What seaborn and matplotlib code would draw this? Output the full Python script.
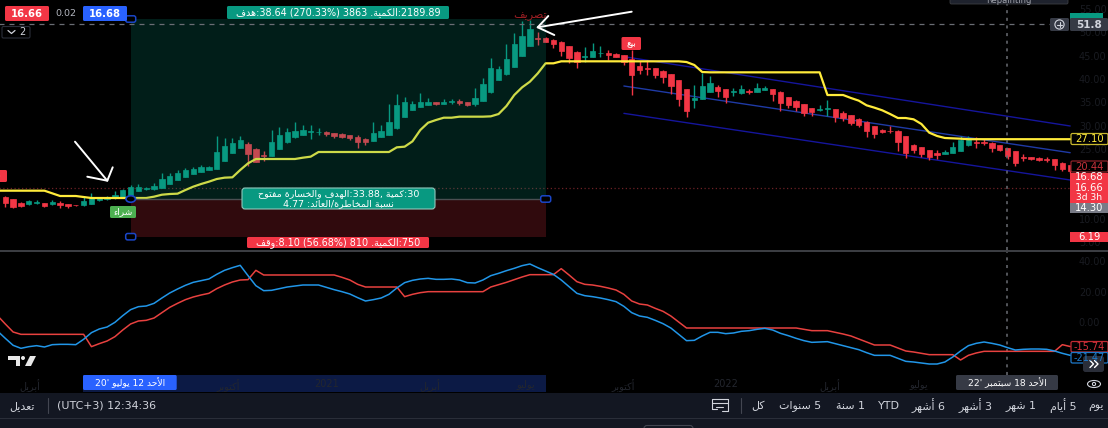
import re
import numpy as np
import pandas as pd
import matplotlib
matplotlib.use("Agg")
import matplotlib.pyplot as plt
import seaborn as sns
from matplotlib.patches import FancyBboxPatch, Rectangle, Ellipse, Circle, Polygon

# weekly candles, oldest first
opens = [14.79, 14.21, 13.43, 13.21, 13.50, 13.43, 13.21, 13.43, 13.14, 13.00, 12.93, 13.29, 14.00, 14.29, 14.43, 14.57,
         15.21, 16.07, 16.36, 16.36, 16.71, 17.57, 18.36, 19.00, 19.71, 20.07, 20.57, 20.79, 22.50, 24.14, 25.21, 26.07,
         25.07, 23.64, 23.57, 25.00, 26.43, 27.50, 28.07, 28.57, 28.64, 28.71, 28.36, 28.29, 27.93, 27.64, 27.21, 26.71,
         27.57, 28.07, 29.43, 31.93, 33.43, 34.07, 34.50, 35.00, 34.71, 35.00, 35.29, 35.07, 34.57, 35.29, 37.14, 39.79,
         41.00, 42.57, 45.00, 47.14, 48.86, 48.86, 48.43, 48.00, 47.07, 45.86, 44.71, 44.79, 45.50, 45.57, 45.43, 45.14,
         44.36, 42.71, 42.36, 42.29, 41.71, 41.07, 39.79, 37.79, 35.50, 35.79, 37.21, 38.21, 37.79, 37.29, 36.93, 37.50,
         37.29, 37.71, 37.86, 37.29, 36.07, 35.36, 34.64, 33.79, 33.36, 33.50, 33.57, 32.79, 32.21, 31.50, 30.86, 29.93,
         29.07, 28.93, 28.93, 27.79, 25.93, 25.36, 24.71, 24.07, 23.93, 24.14, 24.64, 25.79, 26.50, 26.43, 26.36, 25.79,
         25.21, 24.50, 23.36, 23.21, 23.00, 22.93, 22.79, 22.07, 21.57]
closes = [13.36, 12.64, 12.86, 13.79, 13.64, 12.86, 13.71, 13.07, 12.71, 12.93, 13.79, 14.57, 14.57, 14.50, 15.07, 16.21,
          16.79, 16.79, 16.57, 17.00, 18.64, 19.21, 19.79, 20.43, 20.71, 21.14, 21.07, 24.36, 25.64, 26.36, 26.93, 24.00,
          22.29, 23.50, 26.50, 28.07, 28.64, 28.86, 29.00, 28.86, 28.71, 28.14, 27.79, 27.64, 27.29, 26.57, 26.50, 28.36,
          28.86, 30.79, 34.36, 35.07, 34.64, 35.14, 35.14, 34.64, 35.14, 35.29, 34.79, 34.36, 35.86, 39.00, 42.36, 42.21,
          44.21, 47.43, 49.21, 50.64, 48.57, 48.00, 47.50, 46.07, 44.43, 43.57, 44.93, 46.07, 45.64, 45.14, 44.71, 43.57,
          40.86, 41.93, 42.21, 40.86, 40.36, 38.50, 35.79, 33.14, 35.93, 38.50, 39.21, 37.43, 36.07, 37.43, 37.79, 37.21,
          38.14, 38.07, 36.71, 34.79, 34.50, 33.93, 32.79, 33.00, 33.64, 33.71, 31.93, 31.57, 30.64, 30.21, 28.86, 28.21,
          28.71, 28.86, 26.57, 24.07, 24.71, 24.00, 23.21, 23.64, 24.43, 25.43, 26.93, 27.36, 26.29, 26.29, 25.21, 24.71,
          23.57, 22.00, 23.14, 22.86, 22.64, 22.57, 21.50, 20.64, 20.36]
highs = [14.93, 14.36, 13.57, 14.00, 14.00, 13.50, 14.14, 13.86, 13.29, 13.07, 14.79, 15.64, 14.79, 14.86, 15.93, 16.36,
         17.29, 17.50, 16.93, 17.64, 19.86, 19.79, 20.43, 20.86, 21.21, 21.64, 21.36, 27.79, 27.29, 27.29, 27.86, 26.50,
         25.14, 24.64, 29.07, 29.64, 29.43, 30.79, 30.07, 30.07, 29.43, 28.79, 28.43, 28.43, 28.07, 28.00, 27.43, 30.86,
         30.07, 34.64, 36.71, 36.14, 35.29, 37.00, 35.86, 35.14, 35.79, 35.79, 35.79, 35.14, 38.07, 40.14, 44.57, 42.86,
         47.50, 49.93, 52.50, 52.64, 50.14, 48.93, 48.50, 48.14, 47.14, 45.93, 46.86, 47.71, 47.00, 46.14, 45.50, 45.21,
         46.21, 43.79, 44.07, 42.36, 42.00, 41.14, 39.86, 37.86, 38.71, 41.36, 40.64, 38.79, 37.86, 38.00, 38.71, 37.86,
         39.21, 38.50, 37.93, 37.36, 36.14, 35.43, 34.71, 33.86, 34.36, 35.50, 33.64, 33.07, 32.29, 31.57, 30.93, 30.00,
         29.21, 29.93, 29.00, 27.86, 26.00, 25.43, 24.79, 24.79, 24.71, 26.57, 27.79, 27.79, 27.50, 27.07, 26.43, 25.86,
         25.29, 24.57, 23.93, 23.36, 23.29, 23.21, 22.86, 22.14, 21.64]
lows = [12.64, 12.43, 12.50, 13.07, 13.14, 12.50, 13.00, 12.36, 12.36, 12.86, 12.86, 13.21, 13.93, 14.07, 14.29, 14.50,
        15.14, 16.00, 16.29, 16.29, 16.64, 17.50, 18.29, 18.93, 19.64, 20.00, 20.50, 20.71, 22.36, 24.07, 25.14, 21.43,
        22.21, 22.36, 23.50, 24.93, 26.36, 27.43, 28.00, 27.14, 28.00, 27.71, 27.36, 27.43, 26.93, 25.21, 25.79, 26.64,
        27.50, 28.00, 29.36, 31.86, 33.36, 34.00, 34.43, 34.36, 34.64, 34.64, 34.36, 34.29, 34.29, 35.21, 37.07, 39.71,
        40.93, 42.50, 44.93, 47.07, 47.29, 47.86, 46.64, 44.93, 43.36, 42.43, 43.64, 44.71, 44.64, 44.07, 44.64, 42.93,
        36.64, 41.14, 40.79, 40.14, 39.21, 36.79, 34.21, 31.93, 33.86, 35.71, 37.14, 36.21, 34.93, 36.29, 36.86, 36.79,
        37.21, 37.64, 35.36, 33.21, 33.71, 33.21, 32.14, 32.14, 33.14, 32.14, 30.79, 31.07, 30.21, 29.64, 27.64, 27.36,
        28.36, 28.50, 24.64, 23.00, 24.14, 23.21, 22.64, 22.79, 23.86, 24.07, 24.57, 25.71, 25.29, 25.79, 24.43, 24.50,
        22.93, 21.43, 22.50, 22.64, 22.36, 22.21, 20.50, 20.21, 19.79]

# stop line, starts one week before the first candle
trend = [16.07, 16.07, 16.07, 16.07, 16.07, 16.07, 16.07, 15.50, 14.93, 14.93, 14.93, 14.71, 14.50, 14.50, 14.50, 14.50,
         14.50, 14.50, 14.50, 14.50, 14.79, 15.21, 15.36, 15.43, 16.21, 16.93, 17.50, 18.00, 18.57, 18.86, 18.93, 20.50,
         21.93, 22.86, 22.86, 22.86, 22.86, 22.86, 22.86, 23.14, 23.36, 24.36, 24.36, 24.36, 24.36, 24.36, 24.36, 24.36,
         24.36, 24.36, 24.36, 25.36, 25.50, 26.64, 29.07, 30.64, 31.21, 31.71, 31.71, 31.93, 31.93, 31.93, 31.93, 32.00,
         32.50, 34.21, 36.57, 38.21, 39.43, 41.21, 43.36, 43.36, 43.79, 43.79, 43.79, 43.79, 43.79, 43.79, 43.79, 43.79,
         43.79, 43.79, 43.79, 43.79, 43.79, 43.79, 43.79, 43.79, 43.64, 43.00, 41.50, 41.43, 41.43, 41.43, 41.43, 41.43,
         41.43, 41.43, 41.43, 41.43, 41.43, 41.43, 41.43, 41.43, 41.43, 41.43, 36.57, 36.57, 36.57, 35.93, 35.36, 34.36,
         33.86, 33.29, 32.50, 31.64, 31.64, 31.36, 30.36, 28.50, 27.79, 27.36, 27.29, 27.21, 27.10, 27.10, 27.10, 27.10,
         27.10, 27.10, 27.10, 27.10, 27.10, 27.10, 27.10, 27.10, 27.10, 27.10]

# lower pane, same start as the stop line
osc_blue = [-5.65, -10.41, -14.95, -16.90, -15.82, -15.17, -16.04, -14.52, -14.31, -14.31, -14.52, -11.06, -6.73, -4.35,
            -3.05, -0.02, 4.31, 8.21, 10.15, 10.59, 12.32, 15.78, 19.03, 21.63, 24.01, 25.95, 27.04, 28.12, 31.15, 33.75,
            35.48, 36.99, 30.28, 23.79, 20.54, 20.76, 21.84, 22.92, 23.57, 24.22, 24.22, 24.22, 22.71, 21.19, 19.89, 18.38,
            16.00, 13.83, 14.70, 15.78, 18.16, 22.27, 25.74, 27.25, 28.12, 28.55, 27.90, 27.90, 28.12, 27.47, 25.74, 25.52,
            27.47, 30.28, 31.80, 33.53, 35.05, 36.78, 37.86, 35.48, 33.31, 31.15, 27.47, 23.14, 18.81, 17.30, 16.65, 15.78,
            14.70, 13.40, 10.37, 6.26, 4.09, 3.23, 1.28, -0.88, -3.70, -7.81, -11.92, -11.71, -8.89, -6.51, -6.51, -7.38,
            -6.95, -5.86, -5.43, -4.57, -3.92, -5.00, -7.16, -8.68, -10.41, -11.92, -13.01, -12.79, -12.57, -13.87, -15.17,
            -16.47, -17.77, -19.72, -21.45, -21.45, -21.45, -23.40, -25.34, -25.78, -26.43, -27.08, -27.08, -25.78, -22.53,
            -18.63, -15.17, -13.66, -12.79, -13.66, -14.74, -16.47, -17.99, -17.55, -17.34, -17.34, -17.55, -18.63, -20.15,
            -21.45]
osc_red = [4.31, -1.10, -6.30, -7.81, -7.81, -7.81, -7.81, -7.81, -7.81, -7.81, -7.81, -7.81, -15.82, -13.87, -12.14,
           -9.33, -5.00, -1.10, 0.85, 1.28, 2.79, 6.26, 9.72, 12.32, 14.70, 16.43, 17.73, 18.81, 21.84, 24.22, 26.17, 27.47,
           27.69, 33.75, 30.72, 30.72, 30.72, 30.72, 30.72, 30.72, 30.72, 30.72, 30.72, 30.72, 29.20, 27.47, 24.66, 22.92,
           22.92, 22.92, 22.92, 22.92, 16.65, 18.16, 19.24, 19.89, 19.89, 19.89, 19.89, 19.89, 19.89, 19.89, 19.89, 22.92,
           24.44, 25.95, 27.69, 29.42, 30.93, 30.93, 30.93, 30.93, 34.83, 30.72, 26.39, 24.66, 24.22, 23.36, 22.27, 20.97,
           18.16, 13.83, 11.88, 11.24, 9.07, 7.12, 4.09, 0.20, -3.70, -3.70, -3.70, -3.70, -3.70, -3.70, -3.70, -3.70,
           -3.70, -3.70, -3.70, -3.70, -3.70, -3.70, -3.70, -4.57, -5.43, -5.43, -5.43, -6.51, -7.60, -8.89, -10.84, -12.79,
           -14.74, -14.74, -14.74, -16.69, -18.63, -19.28, -20.15, -21.01, -21.01, -21.01, -21.01, -24.48, -21.45, -19.93,
           -18.85, -18.85, -18.85, -18.85, -18.85, -18.85, -18.85, -18.85, -18.85, -18.85, -14.52, -15.74]

# regression channel: first and last week, then the three price levels at each end
channel_weeks = [79, 136]
channel_top = [44.79, 29.93]
channel_mid = [38.50, 24.21]
channel_low = [32.64, 18.36]

# long position tool
entry_week, exit_week = 16, 69
entry_price, target_price, stop_price = 14.30, 52.86, 6.19
last_price, hover_price = 16.66, 51.8

# 15 and 20 sit behind the price labels in the reference
price_ticks = [5, 10, 25, 30, 35, 40, 45, 50, 55]
osc_ticks = [0, 20, 40]
month_weeks = [3.15, 28.4, 41, 54.2, 66.5, 78.9, 92, 105.3, 116.6]
month_labels = ["أبريل", "أكتوبر", "2021", "أبريل", "يوليو", "أكتوبر", "2022", "أبريل", "يوليو"]

# visual left to right order, one entry per toolbar button
range_buttons = [("كل", 758), ("سنوات 5", 800), ("سنة 1", 850), ("YTD", 889), ("أشهر 6", 928.5),
                 ("أشهر 3", 976), ("شهر 1", 1021), ("أيام 5", 1063.5)]

GREEN, RED, BLUE = "#089981", "#f23645", "#2962ff"
TEXT, PANEL, FAINT = "#d1d4dc", "#131722", "#191b21"

# matplotlib has no Arabic shaping, so map letters to their presentation forms
LETTERS = [("ء", 1), ("آ", 2), ("أ", 2), ("ؤ", 2), ("إ", 2), ("ئ", 4), ("ا", 2), ("ب", 4), ("ة", 2), ("ت", 4), ("ث", 4),
           ("ج", 4), ("ح", 4), ("خ", 4), ("د", 2), ("ذ", 2), ("ر", 2), ("ز", 2), ("س", 4), ("ش", 4), ("ص", 4), ("ض", 4),
           ("ط", 4), ("ظ", 4), ("ع", 4), ("غ", 4), ("ف", 4), ("ق", 4), ("ك", 4), ("ل", 4), ("م", 4), ("ن", 4), ("ه", 4),
           ("و", 2), ("ى", 2), ("ي", 4)]
FORMS = {}
code = 0xFE80
for letter, count in LETTERS:
    FORMS[letter] = [chr(code + k) for k in range(count)]
    code += count
LAM_ALEF = {"آ": 0xFEF5, "أ": 0xFEF7, "إ": 0xFEF9, "ا": 0xFEFB}


def shape_word(word):
    out, prev_joins, i = [], False, 0
    while i < len(word):
        ch = word[i]
        if ch == "ل" and i + 1 < len(word) and word[i + 1] in LAM_ALEF:
            out.append(chr(LAM_ALEF[word[i + 1]] + (1 if prev_joins else 0)))
            prev_joins = False
            i += 2
            continue
        forms = FORMS[ch]
        joins_next = len(forms) == 4 and i + 1 < len(word)
        if prev_joins and joins_next:
            out.append(forms[3])
        elif prev_joins:
            out.append(forms[1])
        elif joins_next:
            out.append(forms[2])
        else:
            out.append(forms[0])
        prev_joins = joins_next
        i += 1
    return "".join(reversed(out))


def ar(text):
    return re.sub("[\u0621-\u064A]+", lambda m: shape_word(m[0]), text)


sns.set_theme(style="dark", rc={"figure.facecolor": "black", "axes.facecolor": "none", "axes.grid": False})
plt.rcParams["font.family"] = ["DejaVu Sans"]

candles = pd.DataFrame({"open": opens, "close": closes, "high": highs, "low": lows})
candles["week"] = candles.index
lines = pd.DataFrame({"week": np.arange(-1, 137), "trend": trend, "blue": osc_blue, "red": osc_red})
channel = pd.DataFrame({"week": channel_weeks, "top": channel_top, "mid": channel_mid, "low": channel_low})

W, H = 1108, 428
fig = plt.figure(figsize=(W / 100, H / 100), dpi=100, facecolor="black")


def pane(y0, y1, zorder):
    ax = fig.add_axes([0, (H - y1) / H, 1, (y1 - y0) / H], zorder=zorder)
    ax.set_facecolor("none")
    for s in ax.spines.values():
        s.set_visible(False)
    return ax


back = fig.add_axes([0, 0, 1, 1], zorder=0)
ax = pane(0, 250, 1)
osc = pane(252, 375, 1)
top = fig.add_axes([0, 0, 1, 1], zorder=2)
for a in (back, top):
    a.set_xlim(0, W)
    a.set_ylim(H, 0)
    a.axis("off")
    a.patch.set_alpha(0)

# candles and stop line
up = candles["close"] >= candles["open"]
colors = np.where(up, GREEN, RED)
ax.vlines(candles["week"], candles["low"], candles["high"], colors=colors, linewidth=1, zorder=2)
ax.bar(candles["week"], (candles["close"] - candles["open"]).abs(), bottom=candles[["open", "close"]].min(axis=1),
       width=0.68, color=colors, edgecolor=colors, linewidth=0.5, zorder=3)
sns.lineplot(data=lines, x="week", y="trend", ax=ax, color="#ffeb3b", linewidth=1.6, errorbar=None, legend=False, zorder=4)
sns.lineplot(data=channel, x="week", y="top", ax=ax, color="#15159c", linewidth=1, errorbar=None, legend=False, zorder=1)
sns.lineplot(data=channel, x="week", y="mid", ax=ax, color="#1f3aa5", linewidth=1, errorbar=None, legend=False, zorder=1)
sns.lineplot(data=channel, x="week", y="low", ax=ax, color="#15159c", linewidth=1, errorbar=None, legend=False, zorder=1)

# position zones sit over the candles, that is what mutes them
ax.fill_between([entry_week, exit_week], entry_price, target_price, color=GREEN, alpha=0.2, linewidth=0, zorder=5)
ax.fill_between([entry_week, exit_week], stop_price, entry_price, color=RED, alpha=0.2, linewidth=0, zorder=5)
ax.hlines(entry_price, entry_week, exit_week, color="#4a4f52", linewidth=1, zorder=6)

ax.hlines(hover_price, -1, 133.7, color="#6a6d74", linewidth=0.9, linestyle=(0, (4, 4)), zorder=6)
ax.hlines(last_price, -1, 136, color="#6d2026", linewidth=0.9, linestyle=(0, (1, 2)), zorder=1)
ax.axvline(127.9, color="#6a6d74", linewidth=1.1, linestyle=(0, (2, 3)), zorder=6)
osc.axvline(127.9, color="#6a6d74", linewidth=1.1, linestyle=(0, (2, 3)), zorder=1)

ax.set_xlim(-0.677, 140.83)
ax.set_ylim(3.36, 56.93)
ax.set_xticks([])
ax.set_xlabel("")
ax.set_ylabel("")
ax.yaxis.tick_right()
ax.set_yticks(price_ticks, labels=[f"{t:.2f}" for t in price_ticks])
ax.tick_params(axis="y", length=0, pad=-21, labelsize=7, labelcolor=FAINT)

# lower pane
sns.lineplot(data=lines, x="week", y="red", ax=osc, color="#e8413f", linewidth=1.1, errorbar=None, legend=False, zorder=2)
sns.lineplot(data=lines, x="week", y="blue", ax=osc, color="#2196e8", linewidth=1.1, errorbar=None, legend=False, zorder=3)
osc.set_xlim(-0.677, 140.83)
osc.set_ylim(-34.22, 45.65)
osc.set_xlabel("")
osc.set_ylabel("")
osc.yaxis.tick_right()
osc.set_yticks(osc_ticks, labels=[f"{t:.2f}" for t in osc_ticks])
osc.set_xticks(month_weeks, labels=[ar(m) for m in month_labels])
osc.tick_params(axis="y", length=0, pad=-21, labelsize=7, labelcolor=FAINT)
osc.tick_params(axis="x", length=0, pad=3, labelsize=7, labelcolor="#23262e")


def box(a, x0, y0, x1, y1, fc, ec="none", lw=0, r=1.5):
    a.add_patch(FancyBboxPatch((x0, y0), x1 - x0, y1 - y0, boxstyle=f"round,pad=0,rounding_size={r}",
                               facecolor=fc, edgecolor=ec, linewidth=lw, mutation_aspect=1))


def label(x0, y0, x1, y1, text, fc, color="white", size=7, ec="none", lw=0, weight="normal"):
    box(top, x0, y0, x1, y1, fc, ec, lw)
    top.text((x0 + x1) / 2, (y0 + y1) / 2, ar(text), color=color, fontsize=size, ha="center", va="center",
             fontweight=weight, clip_on=True)


# panels under the data
back.add_patch(Rectangle((0, 250), W, 1.6, color="#3b3d42", linewidth=0))
back.add_patch(Rectangle((83, 375), 462.7, 17, color="#0c1a45", linewidth=0))
back.add_patch(Rectangle((0, 392.5), W, 35.5, color=PANEL, linewidth=0))
back.add_patch(Rectangle((0, 418), W, 1.2, color="#2a2e39", linewidth=0))

# strategy tool labels
label(227, 6, 449, 19, "هدف:38.64 (270.33%) 3863 .الكمية:2189.89", GREEN, size=6.9)
box(top, 242, 188, 435, 209, GREEN, "#8fc9bd", 0.8, r=3)
top.text(338.5, 193.7, ar("مفتوح والخسارة الهدف:33.88, كمية:30"), color="white", fontsize=6.8, ha="center", va="center")
top.text(338.5, 203.3, ar("4.77 :العائد/المخاطرة نسبة"), color="white", fontsize=6.8, ha="center", va="center")
label(247, 237, 429, 248, "وقف:8.10 (56.68%) 810 .الكمية:750", RED, size=6.9)
label(110, 206, 136, 218, "شراء", "#4caf50", size=6.5)
label(621.5, 37, 641, 50, "بيع", RED, size=6.5)
label(-14, 170, 7, 182, "بيع", RED, size=6.5)
top.text(530, 16, ar("تصريف"), color="#9c1f24", fontsize=8, ha="center", va="center")

# tool handles
for hx, hy in [(130.7, 19), (130.7, 236.7), (545.7, 199)]:
    box(top, hx - 5, hy - 3.2, hx + 5, hy + 3.2, "black", "#1a46c8", 1.1, r=2)
top.add_patch(Ellipse((130.7, 199), 9.5, 6.5, facecolor="black", edgecolor="#1a46c8", linewidth=1.2))

# hand drawn arrows
for path in ([(75, 141.7), (107.3, 180.7)], [(87.3, 176.7), (107.3, 180.7), (112.7, 167.3)],
             [(631.7, 11.7), (537.7, 27.3)], [(548.3, 16), (537.7, 27.3), (554.3, 35)]):
    px, py = zip(*path)
    top.plot(px, py, color="white", linewidth=1.4, solid_capstyle="round")

# top left readout
label(5, 6, 49, 21, "16.66", RED, size=7.2, weight="bold")
top.text(66, 13.5, "0.02", color="#b2b5be", fontsize=6.8, ha="center", va="center")
label(83, 6, 127, 21, "16.68", BLUE, size=7.2, weight="bold")
box(top, 2, 26.5, 30, 38, "black", "#2a2e39", 0.8)
top.plot([8, 11.5, 15], [30.5, 33.5, 30.5], color=TEXT, linewidth=0.9)
top.text(22.5, 32, "2", color=TEXT, fontsize=7, ha="center", va="center")

# right scale labels
box(top, 950, -6, 1068, 4, "#1e222d", "#3b3d42", 0.6)
top.text(1009, 0.5, "Repainting", color="#a0a3ab", fontsize=6, ha="center", va="center")
top.add_patch(Rectangle((1070, 13), 33, 6, color=GREEN, linewidth=0))
label(1050, 18, 1069, 31, "", "#363a45")
top.add_patch(Circle((1059.5, 24.5), 4.6, facecolor="none", edgecolor=TEXT, linewidth=0.8))
top.plot([1056.7, 1062.3], [24.5, 24.5], color=TEXT, linewidth=0.8)
top.plot([1059.5, 1059.5], [21.7, 27.3], color=TEXT, linewidth=0.8)
label(1070, 18, 1108, 31, "51.8", "#363a45", TEXT, 7.5, weight="bold")
label(1071, 133.5, 1108, 144.5, "27.10", "black", "#ffeb3b", 7.2, ec="#c9b92e", lw=0.9)
label(1071, 161, 1108, 172, "20.44", "black", "#c8323c", 7.2, ec="#8a2028", lw=0.9)
top.add_patch(Rectangle((1070, 172.5), 38, 30.5, color=RED, linewidth=0))
top.text(1089, 177.3, "16.68", color="white", fontsize=7.2, ha="center", va="center")
top.text(1089, 187.8, "16.66", color="white", fontsize=7.2, ha="center", va="center")
top.text(1089, 197.3, "3d 3h", color="white", fontsize=6.6, ha="center", va="center")
top.add_patch(Rectangle((1070, 203), 38, 10, color="#787b86", linewidth=0))
top.text(1089, 208, "14.30", color="white", fontsize=7.2, ha="center", va="center")
top.add_patch(Rectangle((1070, 232), 38, 10, color=RED, linewidth=0))
top.text(1089, 237, "6.19", color="white", fontsize=7.2, ha="center", va="center")

label(1071, 341.5, 1108, 352, "-15.74", "black", "#d8323c", 7, ec="#c22a33", lw=0.9)
label(1071, 352.5, 1108, 363, "-21.47", "black", "#1e78c8", 7, ec="#1e78c8", lw=0.9)
box(top, 1083, 356, 1104, 372, "#2a2e39", r=2.5)
for cx in (1090, 1094.5):
    top.plot([cx, cx + 3.5, cx], [360.5, 364, 367.5], color="white", linewidth=1)

# logo
top.add_patch(Polygon([(8, 356), (20, 356), (20, 366), (15.5, 366), (15.5, 360), (8, 360)], color="#e8e8e8", linewidth=0))
top.add_patch(Circle((23, 358), 2, color="#e8e8e8", linewidth=0))
top.add_patch(Polygon([(30, 356), (36, 356), (31, 366), (25, 366)], color="#e8e8e8", linewidth=0))

# time scale
label(83, 375, 176.7, 390, "20' يوليو 12 الأحد", BLUE, size=6.6)
label(956, 375, 1058, 390, "22' سبتمبر 18 الأحد", "#363a45", size=6.6)
top.add_patch(Ellipse((1094, 384), 13, 7, facecolor="none", edgecolor=TEXT, linewidth=0.8))
top.add_patch(Circle((1094, 384), 1.6, facecolor="none", edgecolor=TEXT, linewidth=0.8))

# bottom toolbar
top.text(22, 405.7, ar("تعديل"), color=TEXT, fontsize=7.9, ha="center", va="center")
top.plot([47.7, 47.7], [398, 413], color="#434651", linewidth=0.8)
top.text(107, 405.7, "(UTC+3) 12:34:36", color=TEXT, fontsize=7.9, ha="center", va="center")
for name, bx in range_buttons:
    top.text(bx, 405.7, ar(name), color=TEXT, fontsize=7.9, ha="center", va="center")
top.text(1088, 405.7, ar("يوم"), color=TEXT, fontsize=7.9, ha="left", va="center")
top.plot([741, 741], [398, 413], color="#434651", linewidth=0.8)
top.plot([728, 728, 712, 712, 717], [403, 399, 399, 409, 409], color=TEXT, linewidth=0.8)
top.plot([712, 728, 728, 722], [402.5, 402.5, 411, 411], color=TEXT, linewidth=0.8)
top.plot([716, 723], [406.5, 406.5], color=TEXT, linewidth=0.8)
box(top, 644, 425.5, 693, 436, PANEL, "#434651", 0.8, r=3)

fig.savefig("out.png", dpi=100, facecolor="black")
